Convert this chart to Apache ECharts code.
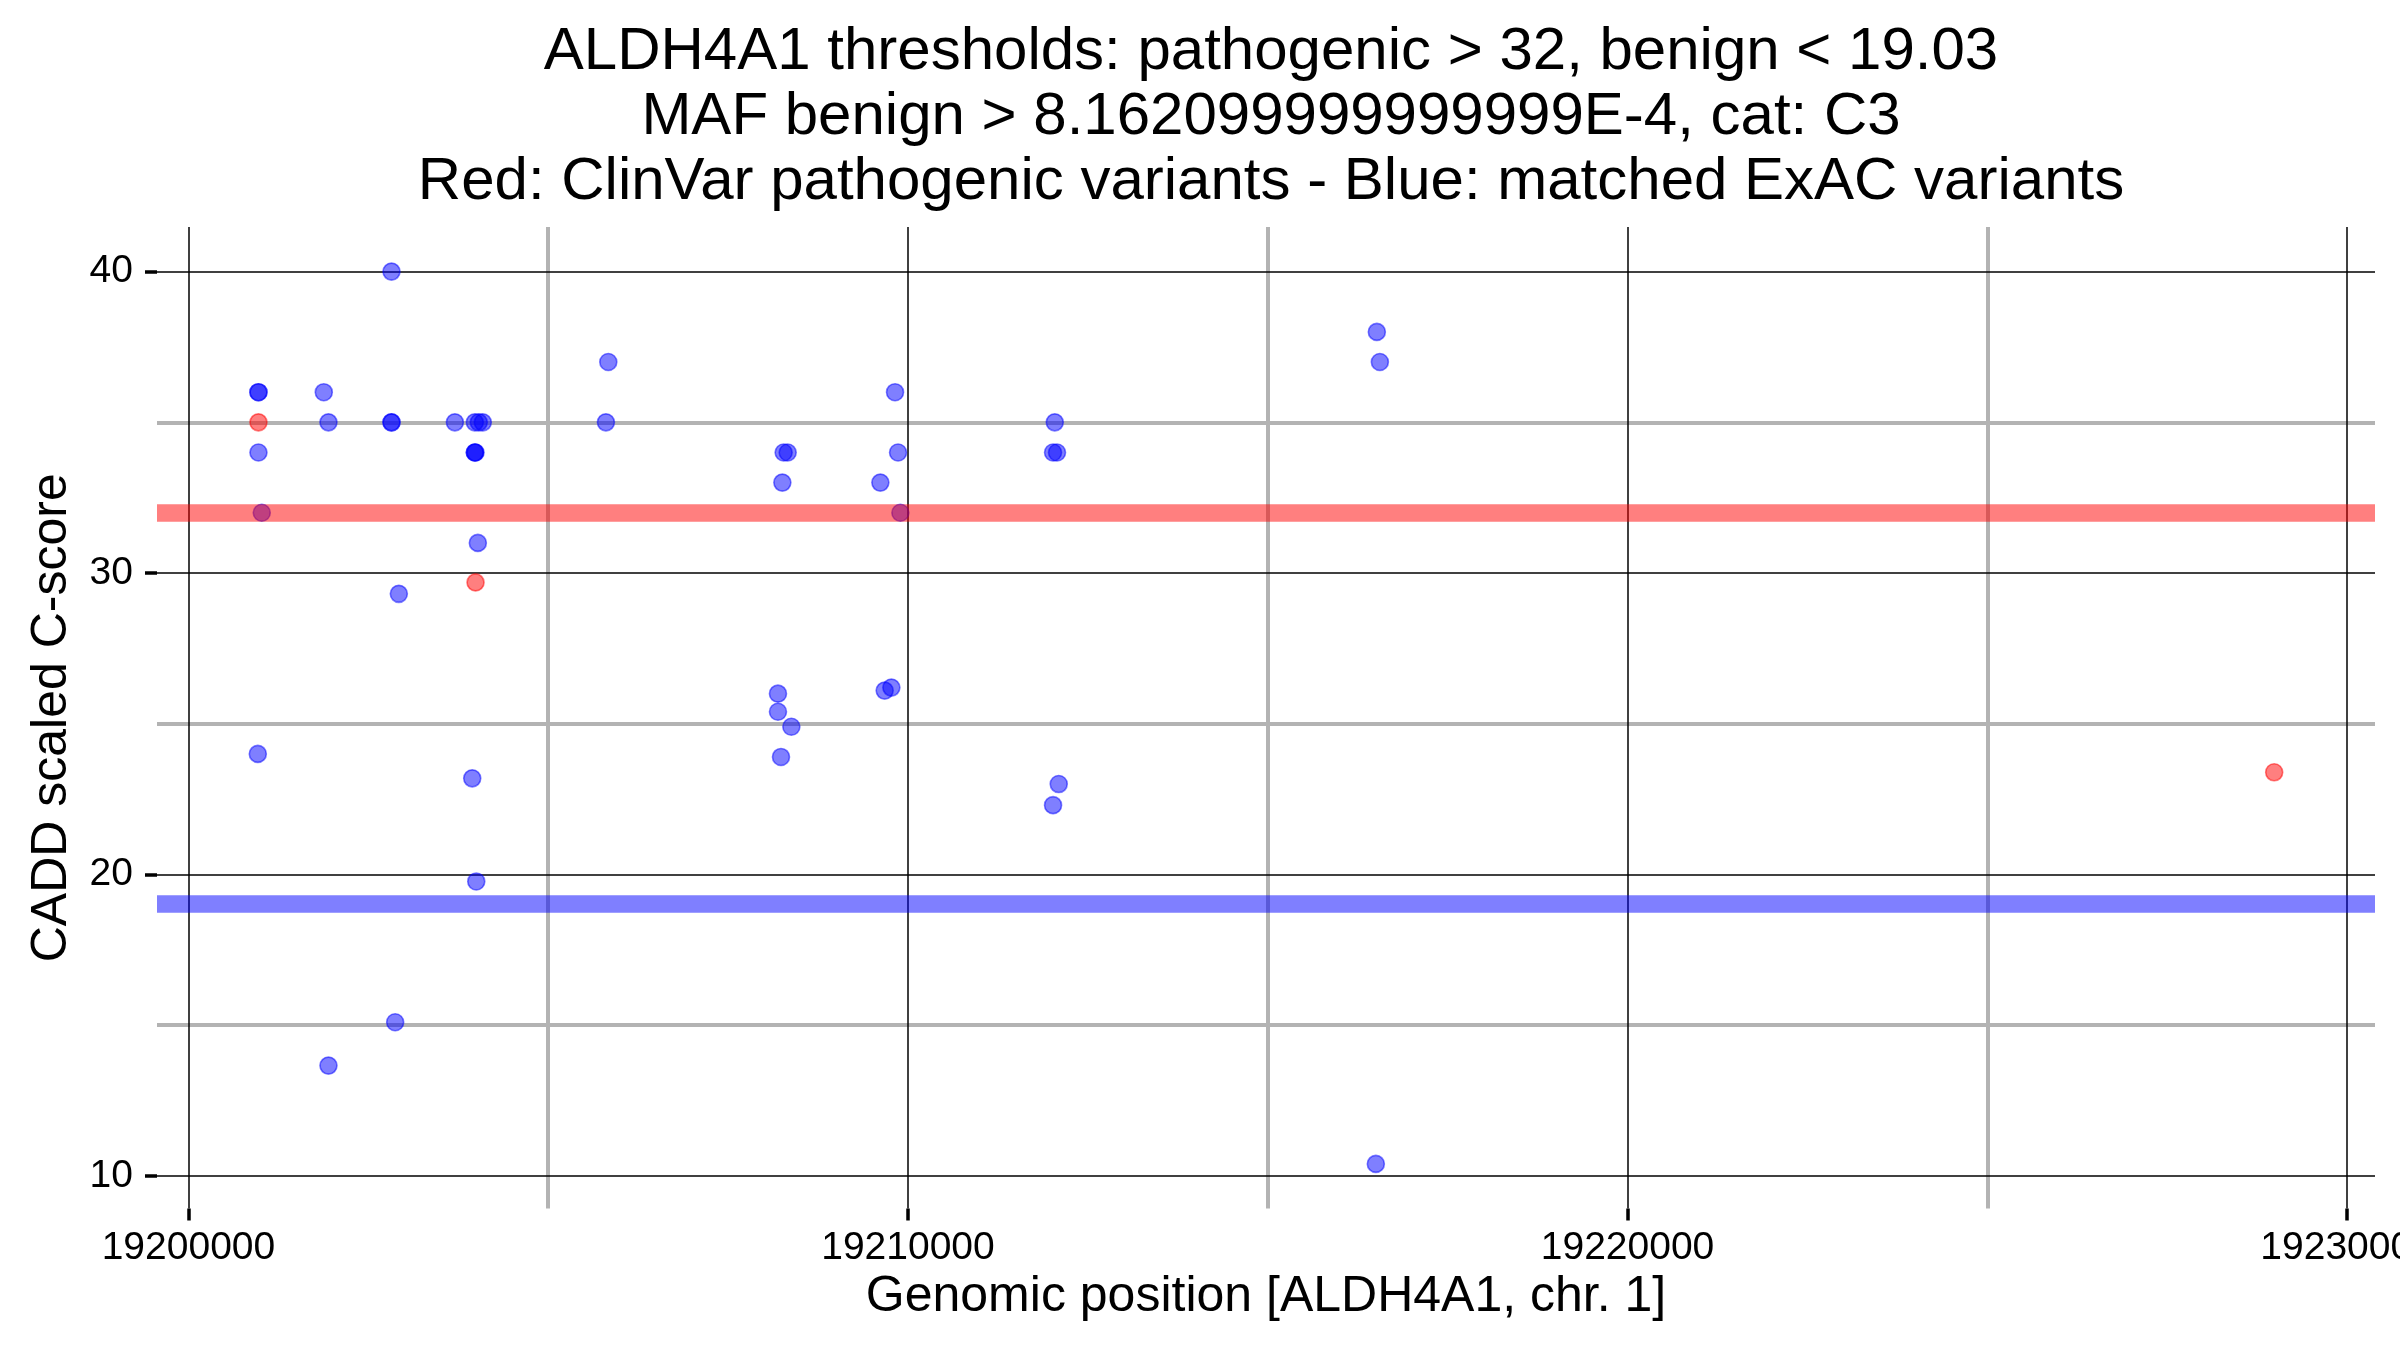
<!DOCTYPE html>
<html>
<head>
<meta charset="utf-8">
<script src="https://cdn.jsdelivr.net/npm/echarts@6/dist/echarts.min.js"></script>
<style>
html,body{margin:0;padding:0;background:#fff;}
#chart{width:2400px;height:1350px;}
</style>
</head>
<body>
<div id="chart"></div>
<script>
// ---- data ----
const titleLines = [
  'ALDH4A1 thresholds: pathogenic > 32, benign < 19.03',
  'MAF benign > 8.162099999999999E-4, cat: C3',
  'Red: ClinVar pathogenic variants - Blue: matched ExAC variants'
];
const xAxisTitle = 'Genomic position [ALDH4A1, chr. 1]';
const yAxisTitle = 'CADD scaled C-score';

const xTicks = [19200000, 19210000, 19220000, 19230000];
const xMinorTicks = [19205000, 19215000, 19225000];
const yTicks = [10, 20, 30, 40];
const yMinorTicks = [15, 25, 35];

const pathogenicThreshold = 32;
const benignThreshold = 19.03;

// matched ExAC variants (blue)
const blueX = [19200973,19200973,19200973,19201019,19200964,
  19201881,19201946,19201946,
  19202822,19202822,19202822,19202924,19202873,
  19203703,19203980,19204035,19204091,
  19203980,19203980,19203990,19204022,19203944,19204000,
  19205835,19205802,
  19208272,19208328,19208254,19208193,19208193,19208379,19208235,
  19209820,19209862,19209616,19209894,19209676,19209769,
  19212040,19212016,19212071,19212095,19212016,
  19216516,19216558,19216502];
const blueY = [36,36,34,32,24,
  36,35,13.66,
  40,35,35,29.31,15.1,
  35,35,35,35,
  34,34,34,31,23.19,19.77,
  37,35,
  34,34,33,26.0,25.4,24.9,23.9,
  36,34,33,32,26.1,26.2,
  35,34,34,23.0,22.3,
  38,37,10.4];

// ClinVar pathogenic variants (red)
const redX = [19200973, 19203990, 19228987];
const redY = [35, 29.69, 23.39];

// axis extents (ggplot-style 5% expansion)
const xMin = 19199563, xMax = 19230388;
const yMin = 8.92, yMax = 41.48;

// ---- chart ----
const FONT = "'Liberation Sans', Arial, Helvetica, sans-serif";
const zip = (a, b) => a.map((v, i) => [v, b[i]]);

const gridLines = [];
yMinorTicks.forEach(v => gridLines.push({yAxis: v, lineStyle: {color: '#b3b3b3', width: 4, type: 'solid'}}));
xMinorTicks.forEach(v => gridLines.push({xAxis: v, lineStyle: {color: '#b3b3b3', width: 4, type: 'solid'}}));
yTicks.forEach(v => gridLines.push({yAxis: v, lineStyle: {color: '#000', width: 1.5, type: 'solid'}}));
xTicks.forEach(v => gridLines.push({xAxis: v, lineStyle: {color: '#000', width: 1.5, type: 'solid'}}));

const chart = echarts.init(document.getElementById('chart'), null, {renderer: 'canvas'});
chart.setOption({
  animation: false,
  backgroundColor: '#fff',
  textStyle: {fontFamily: FONT},
  title: {
    text: titleLines.join('\n'),
    left: 1266,
    top: 15,
    textAlign: 'center',
    textStyle: {fontFamily: FONT, fontSize: 60, fontWeight: 'normal', color: '#000', lineHeight: 65}
  },
  grid: {left: 157, right: 25, top: 227, bottom: 141.5, containLabel: false, outerBoundsMode: 'none'},
  xAxis: {
    type: 'value',
    min: xMin, max: xMax,
    name: xAxisTitle,
    nameLocation: 'middle',
    nameGap: 64,
    nameTextStyle: {fontFamily: FONT, fontSize: 50, color: '#000'},
    axisLine: {show: false},
    axisTick: {show: true, customValues: xTicks, length: 12, lineStyle: {color: '#000', width: 3.5}},
    axisLabel: {show: true, customValues: xTicks, margin: 20, fontFamily: FONT, fontSize: 39, color: '#000',
      hideOverlap: false, formatter: v => String(v)},
    splitLine: {show: false},
    minorSplitLine: {show: false}
  },
  yAxis: {
    type: 'value',
    min: yMin, max: yMax,
    name: yAxisTitle,
    nameLocation: 'middle',
    nameGap: 80,
    nameRotate: 90,
    nameTextStyle: {fontFamily: FONT, fontSize: 50, color: '#000'},
    axisLine: {show: false},
    axisTick: {show: true, customValues: yTicks, length: 12, lineStyle: {color: '#000', width: 3.5}},
    axisLabel: {show: true, customValues: yTicks, margin: 24, fontFamily: FONT, fontSize: 39, color: '#000',
      formatter: v => String(v)},
    splitLine: {show: false},
    minorSplitLine: {show: false}
  },
  series: [
    {
      name: 'ExAC',
      type: 'scatter',
      z: 2,
      data: zip(blueX, blueY),
      symbol: 'circle',
      symbolSize: 17,
      itemStyle: {color: 'rgba(0,0,255,0.5)', borderColor: 'rgba(0,0,255,0.5)', borderWidth: 1.6, opacity: 1},
      emphasis: {disabled: true},
      markLine: {
        silent: true, z: 1, symbol: ['none', 'none'], label: {show: false},
        emphasis: {disabled: true},
        data: gridLines
      }
    },
    {
      name: 'ClinVar',
      type: 'scatter',
      z: 3,
      data: zip(redX, redY),
      symbol: 'circle',
      symbolSize: 17,
      itemStyle: {color: 'rgba(255,0,0,0.5)', borderColor: 'rgba(255,0,0,0.5)', borderWidth: 1.6, opacity: 1},
      emphasis: {disabled: true},
      markLine: {
        silent: true, z: 6, symbol: ['none', 'none'], label: {show: false},
        emphasis: {disabled: true},
        data: [
          {yAxis: pathogenicThreshold, lineStyle: {color: 'rgba(255,0,0,0.5)', width: 17.5, type: 'solid'}},
          {yAxis: benignThreshold, lineStyle: {color: 'rgba(0,0,255,0.5)', width: 17.5, type: 'solid'}}
        ]
      }
    }
  ]
});
</script>
</body>
</html>
